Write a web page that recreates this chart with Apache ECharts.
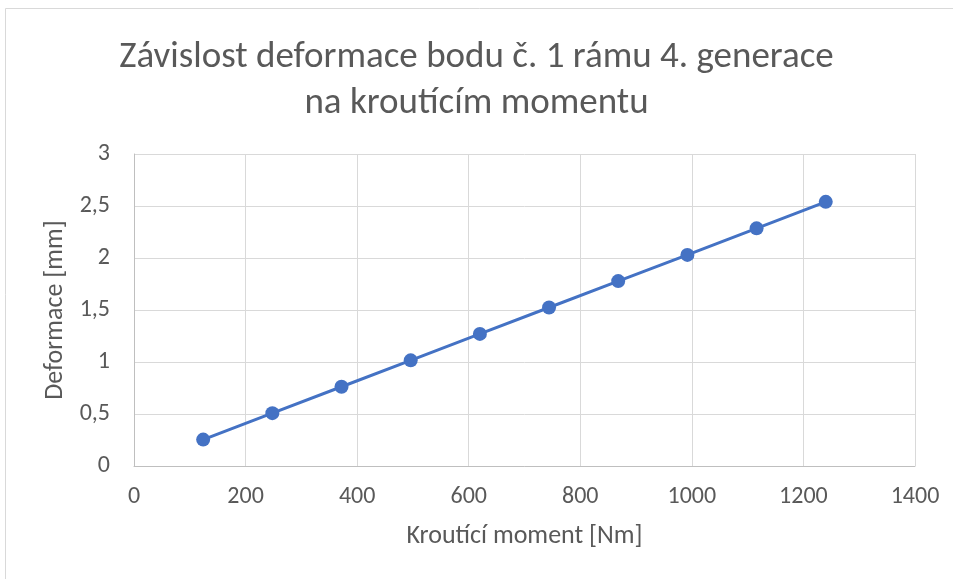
<!DOCTYPE html>
<html>
<head>
<meta charset="utf-8">
<script src="https://cdn.jsdelivr.net/npm/echarts@6/dist/echarts.min.js"></script>
<style>
  html, body { margin: 0; padding: 0; background: #fff; }
  #chart { width: 953px; height: 579px; }
</style>
</head>
<body>
<div id="chart"></div>
<script>
// torque [Nm] vs deformation [mm]
const torque = [124, 248, 372, 496, 620, 744, 868, 992, 1116, 1240];
const deformation = [0.254, 0.508, 0.762, 1.016, 1.27, 1.524, 1.778, 2.03, 2.285, 2.54];

const titleText = 'Závislost deformace bodu č. 1 rámu 4. generace\nna kroutícím momentu';
const xName = 'Kroutící moment [Nm]';
const yName = 'Deformace [mm]';

const font = 'Carlito, "Liberation Sans Narrow", "Open Sans", sans-serif';
const textColor = '#595959';

const myChart = echarts.init(document.getElementById('chart'));

const option = {
  animation: false,
  graphic: [{
    type: 'rect',
    shape: { x: 5.5, y: 8.5, width: 960, height: 600 },
    style: { fill: 'none', stroke: '#d9d9d9', lineWidth: 1 },
    silent: true
  }],
  title: {
    text: titleText,
    left: 'center',
    top: 30,
    textStyle: {
      fontFamily: font,
      fontSize: 37,
      fontWeight: 'normal',
      color: textColor,
      lineHeight: 46
    }
  },
  grid: { left: 134, right: 38, top: 154, bottom: 113 },
  xAxis: {
    type: 'value',
    min: 0,
    max: 1400,
    interval: 200,
    name: xName,
    nameLocation: 'middle',
    nameGap: 57,
    nameTextStyle: { fontFamily: font, fontSize: 26, color: textColor },
    axisLine: { show: true, lineStyle: { color: '#bfbfbf', width: 1 } },
    axisTick: { show: false },
    axisLabel: {
      fontFamily: font, fontSize: 24, color: textColor, margin: 19,
      formatter: v => String(v)
    },
    splitLine: { show: true, lineStyle: { color: '#d9d9d9', width: 1 } }
  },
  yAxis: {
    type: 'value',
    min: 0,
    max: 3,
    interval: 0.5,
    name: yName,
    nameLocation: 'middle',
    nameGap: 63,
    nameTextStyle: { fontFamily: font, fontSize: 26, color: textColor },
    axisLine: { show: true, lineStyle: { color: '#bfbfbf', width: 1 } },
    axisTick: { show: false },
    axisLabel: {
      fontFamily: font, fontSize: 24, color: textColor, margin: 24,
      formatter: v => String(v).replace('.', ',')
    },
    splitLine: { show: true, lineStyle: { color: '#d9d9d9', width: 1 } }
  },
  series: [{
    type: 'line',
    data: torque.map((t, i) => [t, deformation[i]]),
    symbol: 'circle',
    symbolSize: 14,
    lineStyle: { color: '#4472c4', width: 3 },
    itemStyle: { color: '#4472c4' }
  }]
};

myChart.setOption(option);
</script>
</body>
</html>
